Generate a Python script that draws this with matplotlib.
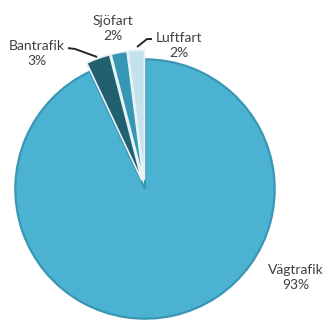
import matplotlib as mpl
mpl.use('agg')
import matplotlib.pyplot as plt

labels = ['Vägtrafik', 'Bantrafik', 'Sjöfart', 'Luftfart']
shares = [93, 3, 2, 2]
colors = ['#4bb2d1', '#23606f', '#3597b3', '#c3e2ec']
explode = [0, 0.07, 0.07, 0.07]

# label block centres and leader lines, in data units (pie radius = 1)
label_pos = [(1.153, -0.672), (-0.824, 1.038), (-0.244, 1.229), (0.262, 1.092)]
leaders = {
    'Bantrafik': [(-0.588, 1.076), (-0.534, 1.069), (-0.366, 1.008)],
    'Luftfart': [(0.053, 1.145), (0.015, 1.145), (-0.061, 1.084)],
}

fig = plt.figure(figsize=(3.28, 3.2), dpi=100)
ax = fig.add_axes([0, 0, 1, 1])

wedges, _ = ax.pie(shares, colors=colors, explode=explode, startangle=90,
                   counterclock=False, radius=0.99,
                   wedgeprops=dict(linewidth=1.2, edgecolor='#e6f2f6'))
wedges[0].set_edgecolor('#3a97b4')
wedges[0].set_linewidth(1.6)

for name, val, (x, y) in zip(labels, shares, label_pos):
    ax.text(x, y, f'{name}\n{val}%', ha='center', va='center',
            fontsize=10, family='Lato', color='#404040', linespacing=1.3)

for pts in leaders.values():
    xs, ys = zip(*pts)
    ax.plot(xs, ys, color='#262626', lw=1.4, solid_capstyle='butt')

ax.set_xlim(-1.107, 1.397)
ax.set_ylim(-1.0, 1.443)
ax.set_aspect('equal')
ax.axis('off')

fig.savefig('out.png', dpi=100)
